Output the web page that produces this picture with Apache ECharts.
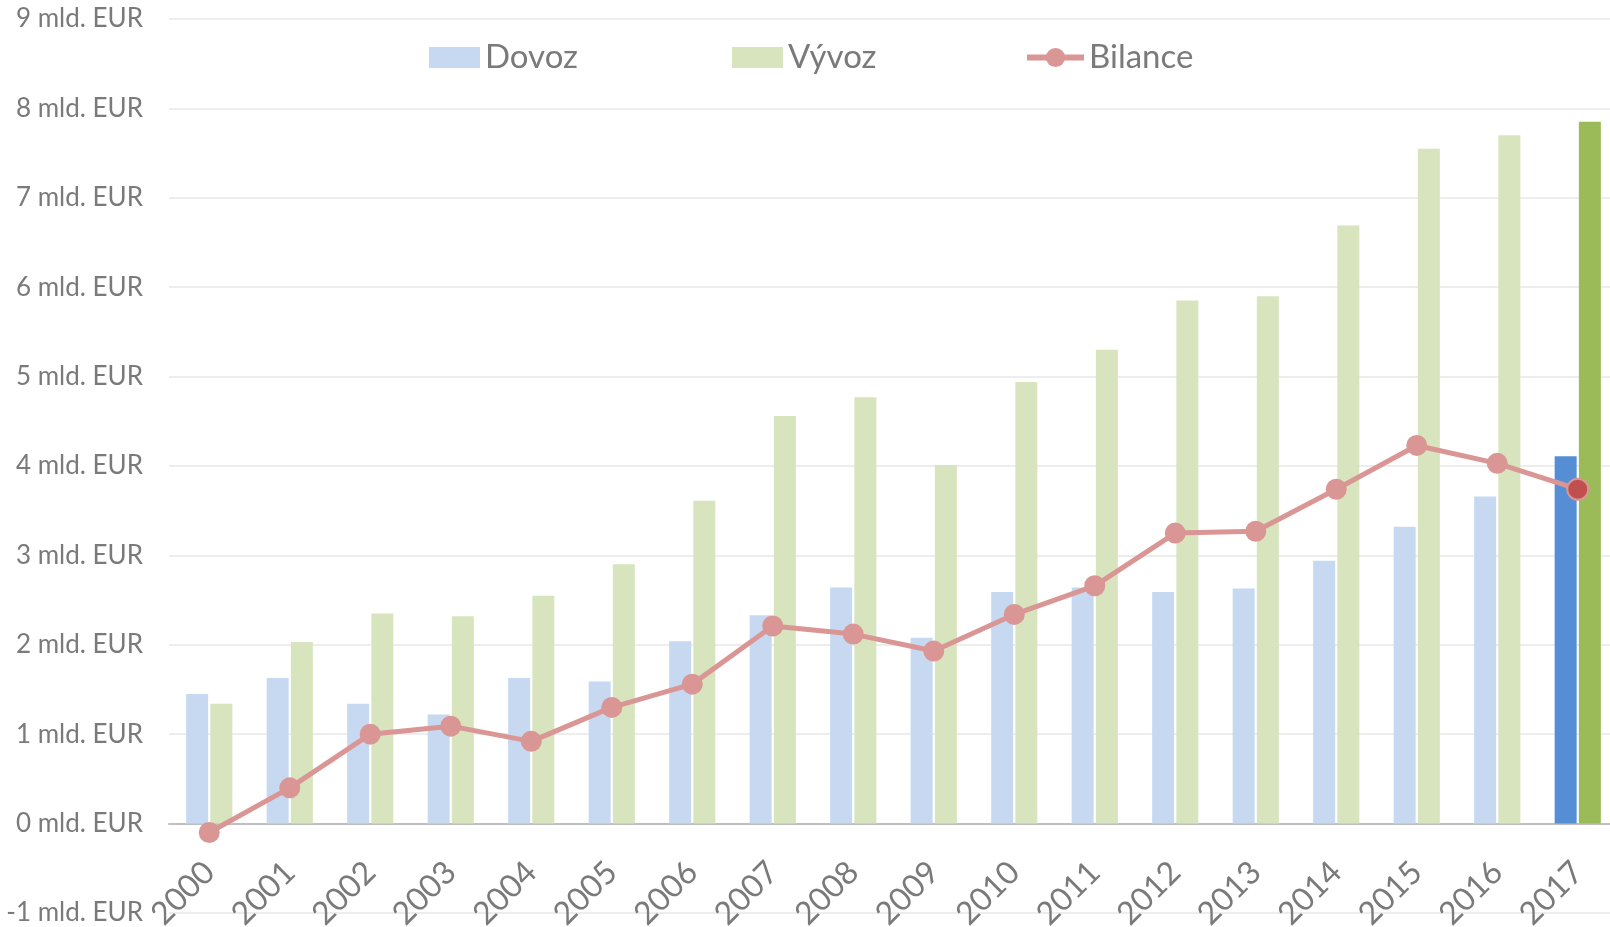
<!DOCTYPE html>
<html>
<head>
<meta charset="utf-8">
<script src="https://cdn.jsdelivr.net/npm/echarts@6/dist/echarts.min.js"></script>
<style>
html,body{margin:0;padding:0;background:#fff;}
#c{width:1610px;height:927px;}
</style>
</head>
<body>
<div id="c"></div>
<script>
const years = ['2000','2001','2002','2003','2004','2005','2006','2007','2008','2009','2010','2011','2012','2013','2014','2015','2016','2017'];
const dovoz = [1.45,1.63,1.34,1.22,1.63,1.59,2.04,2.33,2.64,2.08,2.59,2.64,2.59,2.63,2.94,3.32,3.66,4.11];
const vyvoz = [1.34,2.03,2.35,2.32,2.55,2.90,3.61,4.56,4.77,4.01,4.94,5.30,5.85,5.90,6.69,7.55,7.70,7.85];
const bilance = [-0.10,0.40,1.00,1.09,0.92,1.30,1.56,2.21,2.12,1.93,2.34,2.66,3.25,3.27,3.74,4.23,4.03,3.74];
const yTicks = {min:-1, max:9, interval:1, suffix:' mld. EUR'};

const FONT = 'Lato';
const last = years.length - 1;
const dovozData = dovoz.map((v,i)=> i===last ? {value:v, itemStyle:{color:'#558ED5'}} : v);
const vyvozData = vyvoz.map((v,i)=> i===last ? {value:v, itemStyle:{color:'#9BBB59'}} : v);
const bilData = bilance.map((v,i)=> i===last ? {value:v, itemStyle:{color:'#C0504D', borderColor:'#D99694', borderWidth:2}} : v);

const legendText = {color:'#7a7a7a', fontSize:33, fontFamily:FONT};
const chart = echarts.init(document.getElementById('c'), null, {renderer:'canvas'});
chart.setOption({
  animation:false,
  backgroundColor:'#fff',
  grid:{left:169, right:-8, top:19, bottom:14, containLabel:false, outerBoundsMode:'none'},
  legend:[
    {data:['Dovoz'], left:424, top:36, itemWidth:51, itemHeight:21, itemGap:0, textStyle:legendText, icon:'rect'},
    {data:['Vývoz'], left:727, top:36, itemWidth:51, itemHeight:21, itemGap:0, textStyle:legendText, icon:'rect'},
    {data:['Bilance'], left:1019, top:36, itemWidth:57, itemHeight:24, itemGap:0, textStyle:legendText,
     lineStyle:{width:6}, itemStyle:{borderWidth:0}}
  ],
  xAxis:{
    type:'category', data:years,
    axisLine:{onZero:true, lineStyle:{color:'#BFBFBF', width:2}},
    axisTick:{show:false},
    axisLabel:{rotate:45, margin:-46, color:'#7a7a7a', fontSize:32, fontFamily:FONT, interval:0, hideOverlap:false}
  },
  yAxis:{
    type:'value', min:yTicks.min, max:yTicks.max, interval:yTicks.interval,
    axisLine:{show:false}, axisTick:{show:false},
    splitLine:{lineStyle:{color:'#EDEDED', width:2}},
    axisLabel:{margin:26, color:'#7a7a7a', fontSize:26, fontFamily:FONT, formatter:v=>v+yTicks.suffix}
  },
  series:[
    {name:'Dovoz', type:'bar', data:dovozData, barWidth:22, barGap:'10%', itemStyle:{color:'#C6D9F1'}},
    {name:'Vývoz', type:'bar', data:vyvozData, barWidth:22, barGap:'10%', itemStyle:{color:'#D7E4BD'}},
    {name:'Bilance', type:'line', data:bilData, symbol:'circle', symbolSize:21,
     lineStyle:{color:'#D99694', width:5}, itemStyle:{color:'#D99694'}, z:5}
  ]
});
</script>
</body>
</html>
